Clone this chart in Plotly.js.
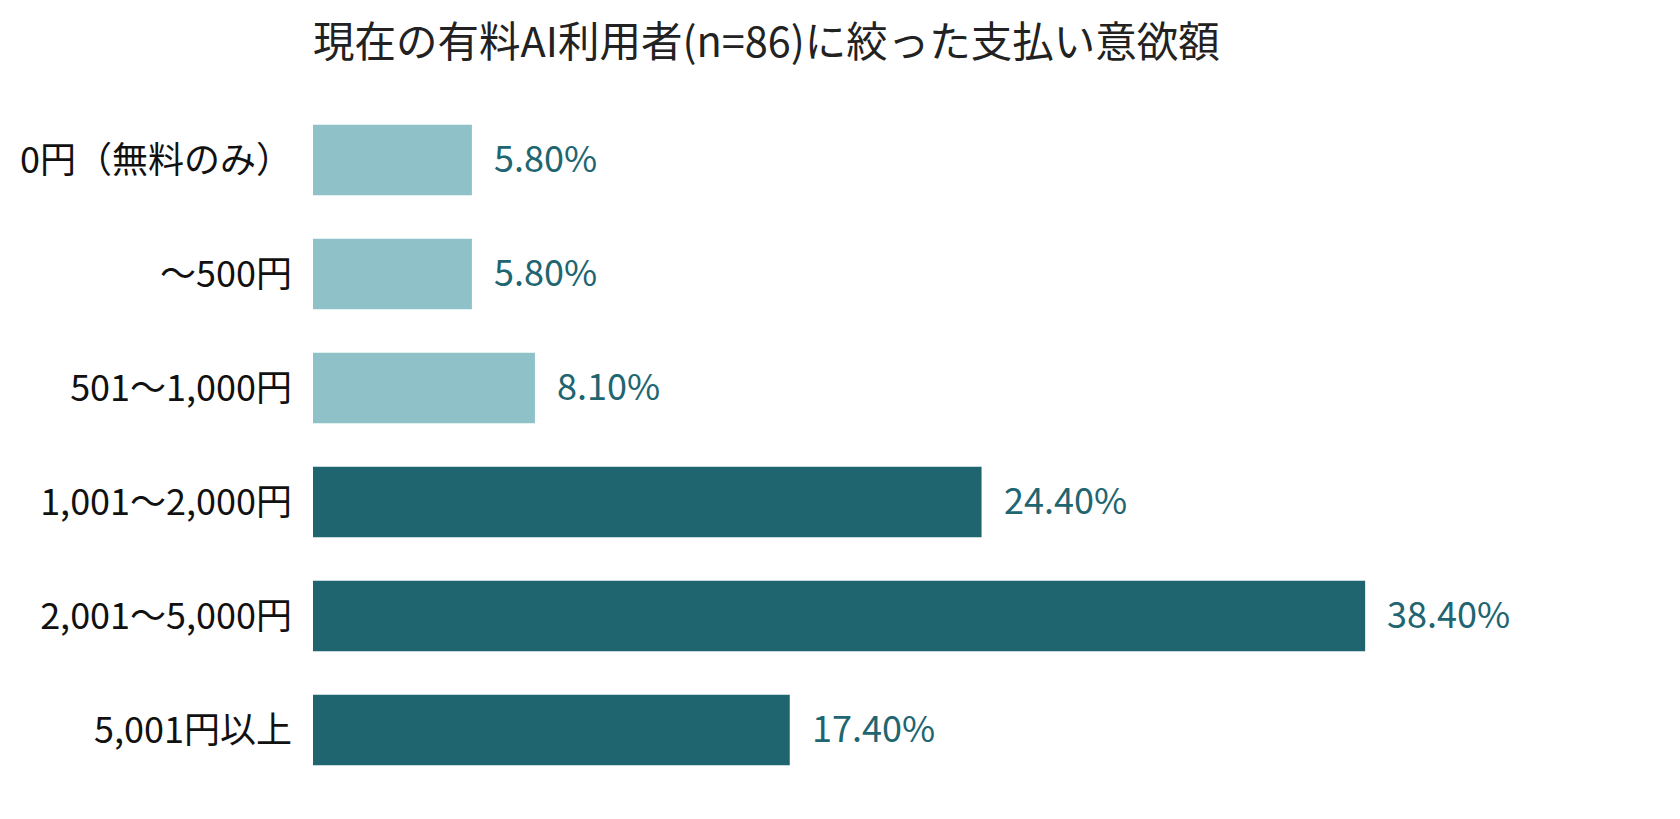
<!DOCTYPE html>
<html>
<head>
<meta charset="utf-8">
<script src="https://cdn.plot.ly/plotly-3.0.1.min.js"></script>
<style>html,body{margin:0;padding:0;background:#fff;}#chart{width:1680px;height:819px;}</style>
</head>
<body>
<div id="chart"></div>
<script>
const categories = ["0円（無料のみ）", "～500円", "501～1,000円", "1,001～2,000円", "2,001～5,000円", "5,001円以上"];
const values = [5.8, 5.8, 8.1, 24.4, 38.4, 17.4];
const valueLabels = ["5.80%", "5.80%", "8.10%", "24.40%", "38.40%", "17.40%"];
const barColors = ["#8fc2c8", "#8fc2c8", "#8fc2c8", "#1f6570", "#1f6570", "#1f6570"];

const FONT = "'Noto Sans CJK JP', 'Noto Sans', sans-serif";

const trace = {
  type: "bar",
  orientation: "h",
  x: values,
  y: categories,
  marker: {color: barColors},
  hoverinfo: "none"
};

const annotations = categories.map((c, i) => ({
  x: values[i], y: c, xref: "x", yref: "y",
  text: valueLabels[i], showarrow: false,
  xanchor: "left", xshift: 20, yshift: 4,
  font: {family: FONT, size: 36, color: "#206570"}
}));

const layout = {
  width: 1680, height: 819,
  paper_bgcolor: "#fff", plot_bgcolor: "#fff",
  margin: {l: 313, r: 134, t: 103, b: 32},
  bargap: 0.38,
  showlegend: false,
  title: {text: "現在の有料AI利用者(n=86)に絞った支払い意欲額", x: 313/1680, xanchor: "left", y: 1 - 42/819, yanchor: "middle",
          font: {family: FONT, size: 41.5, color: "#222222"}},
  xaxis: {range: [0, 45], showgrid: false, zeroline: false, showticklabels: false, showline: false, fixedrange: true},
  yaxis: {autorange: "reversed", showgrid: false, zeroline: false, showline: false, ticks: "",
          ticklabelstandoff: 20,
          tickfont: {family: FONT, size: 36, color: "#111111"}},
  annotations: annotations
};

Plotly.newPlot("chart", [trace], layout, {displayModeBar: false, staticPlot: true});
</script>
</body>
</html>
